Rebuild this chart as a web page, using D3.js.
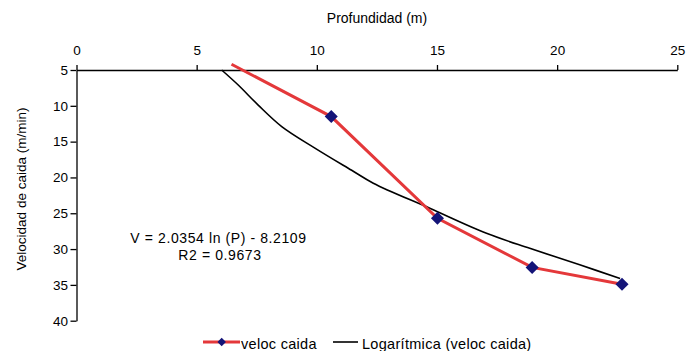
<!DOCTYPE html>
<html>
<head>
<meta charset="utf-8">
<script src="https://cdn.jsdelivr.net/npm/d3@7"></script>
<style>
  body { margin: 0; background: #fff; }
  text { font-family: "Liberation Sans", Arial, sans-serif; fill: #000; }
</style>
</head>
<body>
<div id="chart"></div>
<script>
// measured series: depth (m) vs fall speed (m/min)
var depth = [6.45, 10.6, 15.02, 18.96, 22.7];
var speed = [4.2, 11.5, 25.7, 32.56, 34.9];

// log trendline, points
var trendDepth = [6.04, 6.73, 7.56, 8.54, 9.92, 11.45, 12.35, 14.7, 17.06, 18.86, 20.94, 22.62];
var trendSpeed = [5.0, 7.1, 9.9, 12.9, 15.9, 19.0, 20.8, 24.3, 27.8, 29.9, 32.2, 34.1];

var xTicks = [0, 5, 10, 15, 20, 25];
var yTicks = [5, 10, 15, 20, 25, 30, 35, 40];

function init() {
    var w = 686, h = 351;

    var x = d3.scaleLinear().domain([0, 25]).range([76.5, 677.3]);
    var y = d3.scaleLinear().domain([5, 40]).range([70, 320.7]);

    var svg = d3.select("#chart").append("svg")
        .attr("width", w).attr("height", h);

    // axes
    var xAxis = svg.append("g")
        .attr("transform", "translate(0," + y(5) + ")")
        .call(d3.axisTop(x).tickValues(xTicks).tickSize(5).tickPadding(10).tickSizeOuter(0));
    var yAxis = svg.append("g")
        .attr("transform", "translate(" + x(0) + ",0)")
        .call(d3.axisLeft(y).tickValues(yTicks).tickSize(6).tickPadding(2.5).tickSizeOuter(0));
    [xAxis, yAxis].forEach(function(a) {
        a.selectAll("text").style("font-size", "13.5px").style("font-family", "Liberation Sans, Arial, sans-serif");
        a.selectAll("line, path").attr("stroke", "#000").attr("stroke-width", 1.3);
    });

    svg.append("text").attr("x", 377).attr("y", 23)
        .attr("text-anchor", "middle").style("font-size", "14px")
        .text("Profundidad (m)");
    svg.append("text")
        .attr("transform", "translate(26,189) rotate(-90)")
        .attr("text-anchor", "middle").style("font-size", "13.5px")
        .text("Velocidad de caida (m/min)");

    // trendline
    var trend = trendDepth.map(function(d, i) { return [d, trendSpeed[i]]; });
    svg.append("path").datum(trend)
        .attr("fill", "none").attr("stroke", "#000").attr("stroke-width", 1.6)
        .attr("d", d3.line().x(function(d) { return x(d[0]); })
            .y(function(d) { return y(d[1]); }).curve(d3.curveCatmullRom));

    // data series
    var pts = depth.map(function(d, i) { return [d, speed[i]]; });
    svg.append("path").datum(pts)
        .attr("fill", "none").attr("stroke", "#e4383a").attr("stroke-width", 3)
        .attr("d", d3.line().x(function(d) { return x(d[0]); }).y(function(d) { return y(d[1]); }));

    var diamond = d3.symbol().type(d3.symbolSquare).size(85);
    svg.selectAll(".mk").data(pts.filter(function(d) { return d[1] >= 5; }))
        .enter().append("path")
        .attr("d", diamond)
        .attr("fill", "#141478")
        .attr("transform", function(d) { return "translate(" + x(d[0]) + "," + y(d[1]) + ") rotate(45)"; });

    // equation
    svg.append("text").attr("x", 218.5).attr("y", 243)
        .attr("text-anchor", "middle").style("font-size", "14px").style("letter-spacing", "0.6px")
        .text("V = 2.0354 ln (P) - 8.2109");
    svg.append("text").attr("x", 220).attr("y", 260)
        .attr("text-anchor", "middle").style("font-size", "14px").style("letter-spacing", "0.6px")
        .text("R2 = 0.9673");

    // legend
    var ly = 342;
    svg.append("line").attr("x1", 203).attr("x2", 240).attr("y1", ly).attr("y2", ly)
        .attr("stroke", "#e4383a").attr("stroke-width", 3);
    svg.append("path").attr("d", d3.symbol().type(d3.symbolSquare).size(36))
        .attr("fill", "#141478")
        .attr("transform", "translate(221.7," + ly + ") rotate(45)");
    svg.append("text").attr("x", 241).attr("y", 349).style("font-size", "14.5px").style("letter-spacing", "0.3px").text("veloc caida");
    svg.append("line").attr("x1", 333).attr("x2", 358).attr("y1", ly).attr("y2", ly)
        .attr("stroke", "#000").attr("stroke-width", 1.6);
    svg.append("text").attr("x", 362).attr("y", 349).style("font-size", "14.5px").style("letter-spacing", "0.3px").text("Logarítmica (veloc caida)");
}

window.onload = init;
</script>
</body>
</html>
